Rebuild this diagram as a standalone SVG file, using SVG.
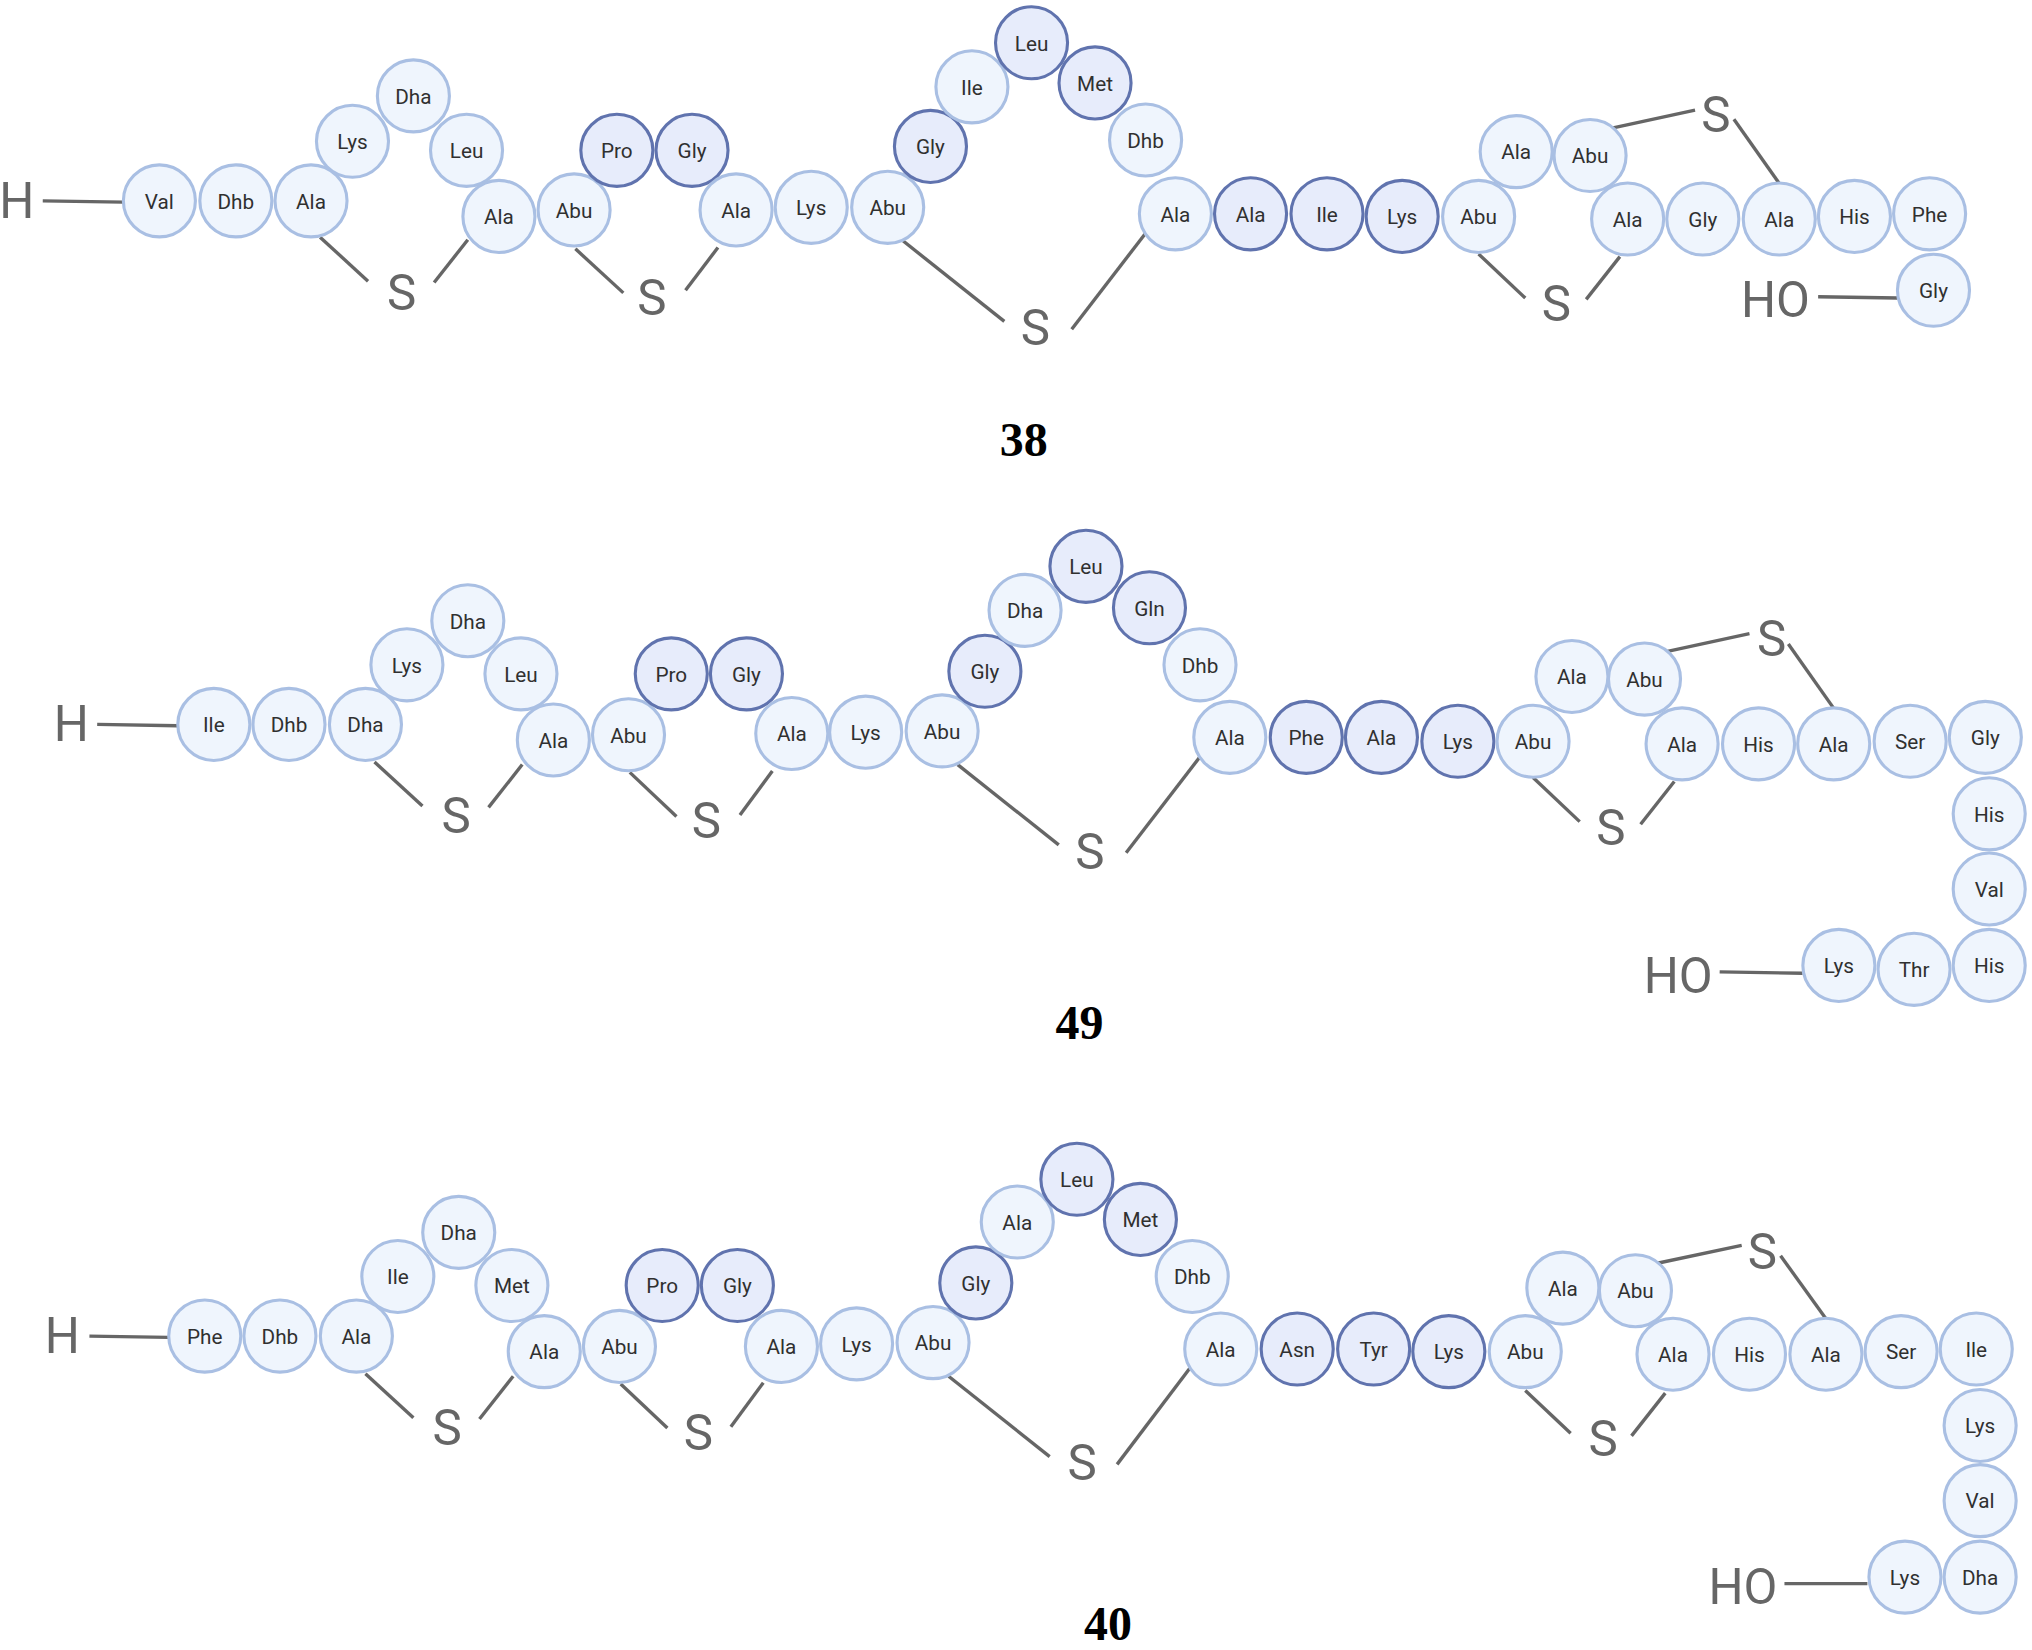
<svg xmlns="http://www.w3.org/2000/svg" width="2032" height="1650" viewBox="0 0 2032 1650">
<style>
.n circle{fill:#eff5fd;stroke:#a9bfe3;stroke-width:2.4}
.d circle{fill:#e7ecfb;stroke:#6073ae;stroke-width:2.4}
.n text,.d text{font:16px Roboto,"Liberation Sans",sans-serif;fill:#303030;text-anchor:middle;dominant-baseline:central;transform:translateY(.6px)}
.a{font:400 38px Roboto,"Liberation Sans",sans-serif;fill:#666;text-anchor:middle;dominant-baseline:central;transform:translateY(.8px)}
.t{font:bold 37px "Liberation Serif",serif;fill:#000;text-anchor:middle;dominant-baseline:central}
#connectors line{stroke:#666;stroke-width:2.6;stroke-linecap:butt}
</style>
<rect width="2032" height="1650" fill="#fff"/>
<g transform="scale(1.2959)">
<g id="connectors">
<line x1="33" y1="155" x2="95" y2="156"/><line x1="247" y1="183" x2="284" y2="217"/><line x1="335" y1="218" x2="361" y2="185"/><line x1="444" y1="192" x2="481" y2="226"/><line x1="529" y1="224" x2="554" y2="191"/><line x1="697" y1="186" x2="775" y2="248"/><line x1="827" y1="254" x2="884" y2="180"/><line x1="1141" y1="196" x2="1177" y2="230"/><line x1="1224" y1="231" x2="1250" y2="198"/><line x1="1243" y1="99" x2="1308" y2="85"/><line x1="1338" y1="92" x2="1374" y2="143"/><line x1="1403" y1="229" x2="1464" y2="230"/>
<line x1="75" y1="559" x2="137" y2="560"/><line x1="289" y1="588" x2="326" y2="622"/><line x1="377" y1="623" x2="403" y2="590"/><line x1="486" y1="596" x2="522" y2="630"/><line x1="571" y1="629" x2="596" y2="595"/><line x1="739" y1="590" x2="817" y2="652"/><line x1="869" y1="658" x2="926" y2="584"/><line x1="1183" y1="600" x2="1219" y2="634"/><line x1="1266" y1="636" x2="1292" y2="603"/><line x1="1285" y1="503" x2="1350" y2="489"/><line x1="1380" y1="497" x2="1416" y2="548"/><line x1="1327" y1="750" x2="1391" y2="751"/>
<line x1="69" y1="1031" x2="130" y2="1032"/><line x1="282" y1="1060" x2="319" y2="1094"/><line x1="370" y1="1095" x2="396" y2="1062"/><line x1="479" y1="1068" x2="515" y2="1102"/><line x1="564" y1="1101" x2="589" y2="1067"/><line x1="732" y1="1062" x2="810" y2="1124"/><line x1="862" y1="1130" x2="918" y2="1056"/><line x1="1177" y1="1073" x2="1212" y2="1106"/><line x1="1259" y1="1108" x2="1285" y2="1075"/><line x1="1278" y1="975" x2="1344" y2="961"/><line x1="1374" y1="969" x2="1410" y2="1019"/><line x1="1377" y1="1222" x2="1441" y2="1222"/>
</g>
<g id="p38">
<g id="a1" class="n"><circle cx="123" cy="155" r="27.8"/><text x="123" y="155">Val</text></g>
<g id="a2" class="n"><circle cx="182" cy="155" r="27.8"/><text x="182" y="155">Dhb</text></g>
<g id="a3" class="n"><circle cx="240" cy="155" r="27.8"/><text x="240" y="155">Ala</text></g>
<g id="a4" class="n"><circle cx="272" cy="109" r="27.8"/><text x="272" y="109">Lys</text></g>
<g id="a5" class="n"><circle cx="319" cy="74" r="27.8"/><text x="319" y="74">Dha</text></g>
<g id="a6" class="n"><circle cx="360" cy="116" r="27.8"/><text x="360" y="116">Leu</text></g>
<g id="a7" class="n"><circle cx="385" cy="167" r="27.8"/><text x="385" y="167">Ala</text></g>
<g id="a8" class="n"><circle cx="443" cy="162" r="27.8"/><text x="443" y="162">Abu</text></g>
<g id="a9" class="d"><circle cx="476" cy="116" r="27.8"/><text x="476" y="116">Pro</text></g>
<g id="a10" class="d"><circle cx="534" cy="116" r="27.8"/><text x="534" y="116">Gly</text></g>
<g id="a11" class="n"><circle cx="568" cy="162" r="27.8"/><text x="568" y="162">Ala</text></g>
<g id="a12" class="n"><circle cx="626" cy="160" r="27.8"/><text x="626" y="160">Lys</text></g>
<g id="a13" class="n"><circle cx="685" cy="160" r="27.8"/><text x="685" y="160">Abu</text></g>
<g id="a14" class="d"><circle cx="718" cy="113" r="27.8"/><text x="718" y="113">Gly</text></g>
<g id="a15" class="n"><circle cx="750" cy="67" r="27.8"/><text x="750" y="67">Ile</text></g>
<g id="a16" class="d"><circle cx="796" cy="33" r="27.8"/><text x="796" y="33">Leu</text></g>
<g id="a17" class="d"><circle cx="845" cy="64" r="27.8"/><text x="845" y="64">Met</text></g>
<g id="a18" class="n"><circle cx="884" cy="108" r="27.8"/><text x="884" y="108">Dhb</text></g>
<g id="a19" class="n"><circle cx="907" cy="165" r="27.8"/><text x="907" y="165">Ala</text></g>
<g id="a20" class="d"><circle cx="965" cy="165" r="27.8"/><text x="965" y="165">Ala</text></g>
<g id="a21" class="d"><circle cx="1024" cy="165" r="27.8"/><text x="1024" y="165">Ile</text></g>
<g id="a22" class="d"><circle cx="1082" cy="167" r="27.8"/><text x="1082" y="167">Lys</text></g>
<g id="a23" class="n"><circle cx="1141" cy="167" r="27.8"/><text x="1141" y="167">Abu</text></g>
<g id="a24" class="n"><circle cx="1170" cy="117" r="27.8"/><text x="1170" y="117">Ala</text></g>
<g id="a25" class="n"><circle cx="1227" cy="120" r="27.8"/><text x="1227" y="120">Abu</text></g>
<g id="a26" class="n"><circle cx="1256" cy="169" r="27.8"/><text x="1256" y="169">Ala</text></g>
<g id="a27" class="n"><circle cx="1314" cy="169" r="27.8"/><text x="1314" y="169">Gly</text></g>
<g id="a28" class="n"><circle cx="1373" cy="169" r="27.8"/><text x="1373" y="169">Ala</text></g>
<g id="a29" class="n"><circle cx="1431" cy="167" r="27.8"/><text x="1431" y="167">His</text></g>
<g id="a30" class="n"><circle cx="1489" cy="165" r="27.8"/><text x="1489" y="165">Phe</text></g>
<g id="a31" class="n"><circle cx="1492" cy="224" r="27.8"/><text x="1492" y="224">Gly</text></g>
<text class="a" x="13" y="154">H</text><text class="a" x="310" y="225">S</text><text class="a" x="503" y="229">S</text><text class="a" x="799" y="252">S</text><text class="a" x="1201" y="234">S</text><text class="a" x="1324" y="88">S</text><text class="a" x="1370" y="231">HO</text>
<text class="t" x="790" y="339">38</text>
</g>
<g id="p49">
<g id="b1" class="n"><circle cx="165" cy="559" r="27.8"/><text x="165" y="559">Ile</text></g>
<g id="b2" class="n"><circle cx="223" cy="559" r="27.8"/><text x="223" y="559">Dhb</text></g>
<g id="b3" class="n"><circle cx="282" cy="559" r="27.8"/><text x="282" y="559">Dha</text></g>
<g id="b4" class="n"><circle cx="314" cy="513" r="27.8"/><text x="314" y="513">Lys</text></g>
<g id="b5" class="n"><circle cx="361" cy="479" r="27.8"/><text x="361" y="479">Dha</text></g>
<g id="b6" class="n"><circle cx="402" cy="520" r="27.8"/><text x="402" y="520">Leu</text></g>
<g id="b7" class="n"><circle cx="427" cy="571" r="27.8"/><text x="427" y="571">Ala</text></g>
<g id="b8" class="n"><circle cx="485" cy="567" r="27.8"/><text x="485" y="567">Abu</text></g>
<g id="b9" class="d"><circle cx="518" cy="520" r="27.8"/><text x="518" y="520">Pro</text></g>
<g id="b10" class="d"><circle cx="576" cy="520" r="27.8"/><text x="576" y="520">Gly</text></g>
<g id="b11" class="n"><circle cx="611" cy="566" r="27.8"/><text x="611" y="566">Ala</text></g>
<g id="b12" class="n"><circle cx="668" cy="565" r="27.8"/><text x="668" y="565">Lys</text></g>
<g id="b13" class="n"><circle cx="727" cy="564" r="27.8"/><text x="727" y="564">Abu</text></g>
<g id="b14" class="d"><circle cx="760" cy="518" r="27.8"/><text x="760" y="518">Gly</text></g>
<g id="b15" class="n"><circle cx="791" cy="471" r="27.8"/><text x="791" y="471">Dha</text></g>
<g id="b16" class="d"><circle cx="838" cy="437" r="27.8"/><text x="838" y="437">Leu</text></g>
<g id="b17" class="d"><circle cx="887" cy="469" r="27.8"/><text x="887" y="469">Gln</text></g>
<g id="b18" class="n"><circle cx="926" cy="513" r="27.8"/><text x="926" y="513">Dhb</text></g>
<g id="b19" class="n"><circle cx="949" cy="569" r="27.8"/><text x="949" y="569">Ala</text></g>
<g id="b20" class="d"><circle cx="1008" cy="569" r="27.8"/><text x="1008" y="569">Phe</text></g>
<g id="b21" class="d"><circle cx="1066" cy="569" r="27.8"/><text x="1066" y="569">Ala</text></g>
<g id="b22" class="d"><circle cx="1125" cy="572" r="27.8"/><text x="1125" y="572">Lys</text></g>
<g id="b23" class="n"><circle cx="1183" cy="572" r="27.8"/><text x="1183" y="572">Abu</text></g>
<g id="b24" class="n"><circle cx="1213" cy="522" r="27.8"/><text x="1213" y="522">Ala</text></g>
<g id="b25" class="n"><circle cx="1269" cy="524" r="27.8"/><text x="1269" y="524">Abu</text></g>
<g id="b26" class="n"><circle cx="1298" cy="574" r="27.8"/><text x="1298" y="574">Ala</text></g>
<g id="b27" class="n"><circle cx="1357" cy="574" r="27.8"/><text x="1357" y="574">His</text></g>
<g id="b28" class="n"><circle cx="1415" cy="574" r="27.8"/><text x="1415" y="574">Ala</text></g>
<g id="b29" class="n"><circle cx="1474" cy="572" r="27.8"/><text x="1474" y="572">Ser</text></g>
<g id="b30" class="n"><circle cx="1532" cy="569" r="27.8"/><text x="1532" y="569">Gly</text></g>
<g id="b31" class="n"><circle cx="1535" cy="628" r="27.8"/><text x="1535" y="628">His</text></g>
<g id="b32" class="n"><circle cx="1535" cy="686" r="27.8"/><text x="1535" y="686">Val</text></g>
<g id="b33" class="n"><circle cx="1535" cy="745" r="27.8"/><text x="1535" y="745">His</text></g>
<g id="b34" class="n"><circle cx="1477" cy="748" r="27.8"/><text x="1477" y="748">Thr</text></g>
<g id="b35" class="n"><circle cx="1419" cy="745" r="27.8"/><text x="1419" y="745">Lys</text></g>
<text class="a" x="55" y="558">H</text><text class="a" x="352" y="629">S</text><text class="a" x="545" y="633">S</text><text class="a" x="841" y="657">S</text><text class="a" x="1243" y="638">S</text><text class="a" x="1367" y="492">S</text><text class="a" x="1295" y="752">HO</text>
<text class="t" x="833" y="789">49</text>
</g>
<g id="p40">
<g id="c1" class="n"><circle cx="158" cy="1031" r="27.8"/><text x="158" y="1031">Phe</text></g>
<g id="c2" class="n"><circle cx="216" cy="1031" r="27.8"/><text x="216" y="1031">Dhb</text></g>
<g id="c3" class="n"><circle cx="275" cy="1031" r="27.8"/><text x="275" y="1031">Ala</text></g>
<g id="c4" class="n"><circle cx="307" cy="985" r="27.8"/><text x="307" y="985">Ile</text></g>
<g id="c5" class="n"><circle cx="354" cy="951" r="27.8"/><text x="354" y="951">Dha</text></g>
<g id="c6" class="n"><circle cx="395" cy="992" r="27.8"/><text x="395" y="992">Met</text></g>
<g id="c7" class="n"><circle cx="420" cy="1043" r="27.8"/><text x="420" y="1043">Ala</text></g>
<g id="c8" class="n"><circle cx="478" cy="1039" r="27.8"/><text x="478" y="1039">Abu</text></g>
<g id="c9" class="d"><circle cx="511" cy="992" r="27.8"/><text x="511" y="992">Pro</text></g>
<g id="c10" class="d"><circle cx="569" cy="992" r="27.8"/><text x="569" y="992">Gly</text></g>
<g id="c11" class="n"><circle cx="603" cy="1039" r="27.8"/><text x="603" y="1039">Ala</text></g>
<g id="c12" class="n"><circle cx="661" cy="1037" r="27.8"/><text x="661" y="1037">Lys</text></g>
<g id="c13" class="n"><circle cx="720" cy="1036" r="27.8"/><text x="720" y="1036">Abu</text></g>
<g id="c14" class="d"><circle cx="753" cy="990" r="27.8"/><text x="753" y="990">Gly</text></g>
<g id="c15" class="n"><circle cx="785" cy="943" r="27.8"/><text x="785" y="943">Ala</text></g>
<g id="c16" class="d"><circle cx="831" cy="910" r="27.8"/><text x="831" y="910">Leu</text></g>
<g id="c17" class="d"><circle cx="880" cy="941" r="27.8"/><text x="880" y="941">Met</text></g>
<g id="c18" class="n"><circle cx="920" cy="985" r="27.8"/><text x="920" y="985">Dhb</text></g>
<g id="c19" class="n"><circle cx="942" cy="1041" r="27.8"/><text x="942" y="1041">Ala</text></g>
<g id="c20" class="d"><circle cx="1001" cy="1041" r="27.8"/><text x="1001" y="1041">Asn</text></g>
<g id="c21" class="d"><circle cx="1060" cy="1041" r="27.8"/><text x="1060" y="1041">Tyr</text></g>
<g id="c22" class="d"><circle cx="1118" cy="1043" r="27.8"/><text x="1118" y="1043">Lys</text></g>
<g id="c23" class="n"><circle cx="1177" cy="1043" r="27.8"/><text x="1177" y="1043">Abu</text></g>
<g id="c24" class="n"><circle cx="1206" cy="994" r="27.8"/><text x="1206" y="994">Ala</text></g>
<g id="c25" class="n"><circle cx="1262" cy="996" r="27.8"/><text x="1262" y="996">Abu</text></g>
<g id="c26" class="n"><circle cx="1291" cy="1045" r="27.8"/><text x="1291" y="1045">Ala</text></g>
<g id="c27" class="n"><circle cx="1350" cy="1045" r="27.8"/><text x="1350" y="1045">His</text></g>
<g id="c28" class="n"><circle cx="1409" cy="1045" r="27.8"/><text x="1409" y="1045">Ala</text></g>
<g id="c29" class="n"><circle cx="1467" cy="1043" r="27.8"/><text x="1467" y="1043">Ser</text></g>
<g id="c30" class="n"><circle cx="1525" cy="1041" r="27.8"/><text x="1525" y="1041">Ile</text></g>
<g id="c31" class="n"><circle cx="1528" cy="1100" r="27.8"/><text x="1528" y="1100">Lys</text></g>
<g id="c32" class="n"><circle cx="1528" cy="1158" r="27.8"/><text x="1528" y="1158">Val</text></g>
<g id="c33" class="n"><circle cx="1528" cy="1217" r="27.8"/><text x="1528" y="1217">Dha</text></g>
<g id="c34" class="n"><circle cx="1470" cy="1217" r="27.8"/><text x="1470" y="1217">Lys</text></g>
<text class="a" x="48" y="1030">H</text><text class="a" x="345" y="1101">S</text><text class="a" x="539" y="1105">S</text><text class="a" x="835" y="1128">S</text><text class="a" x="1237" y="1110">S</text><text class="a" x="1360" y="965">S</text><text class="a" x="1345" y="1224">HO</text>
<text class="t" x="855" y="1252.5">40</text>
</g>
</g>
</svg>
